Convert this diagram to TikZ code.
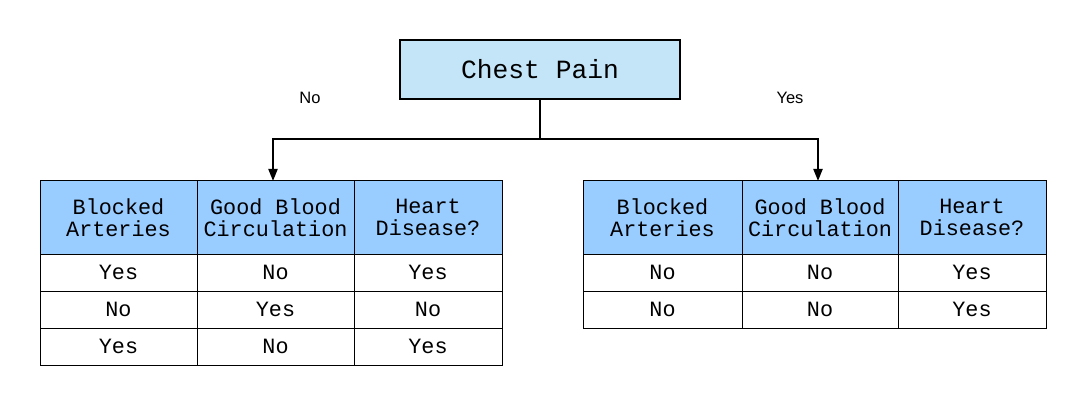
\documentclass[tikz,border=0pt]{standalone}
\usepackage{fontspec}
\setmainfont{Liberation Sans}
\newfontfamily\monof{Liberation Mono}
\usetikzlibrary{arrows.meta}
\definecolor{rootfill}{HTML}{C4E5F7}
\definecolor{headfill}{HTML}{99CCFF}
\tikzset{
  cell/.style={draw=black, line width=1pt, inner sep=0pt, align=center,
    font=\monof\fontsize{21.8}{21.7}\selectfont},
  head/.style={cell, fill=headfill},
  root/.style={draw=black, line width=2pt, fill=rootfill, inner sep=0pt,
    minimum width=280, minimum height=59, font=\monof\fontsize{26.3}{28}\selectfont},
  conn/.style={line width=2pt},
  arr/.style={conn, -{Triangle[width=9pt,length=12pt]}},
  lbl/.style={font=\fontsize{16.5}{18}\selectfont, inner sep=0pt}
}
\begin{document}
\begin{tikzpicture}[x=1pt,y=-1pt]
\useasboundingbox (0,0) rectangle (1087,406);
\node[root] (cp) at (540,69.5) {Chest Pain};
\node[lbl] (no) at (310,98) {No};
\node[lbl] (yes) at (790,98) {Yes};
% left table
\node[head, minimum width=157, minimum height=73] (L01) at (118.5,217.5) {Blocked\\Arteries};
\node[head, minimum width=157, minimum height=73] (L02) at (275.5,217.5) {Good Blood\\Circulation};
\node[head, minimum width=148, minimum height=73] (L03) at (428,217.5) {Heart\\Disease?};
\node[cell, minimum width=157, minimum height=37] (L11) at (118.5,272.5) {Yes};
\node[cell, minimum width=157, minimum height=37] (L12) at (275.5,272.5) {No};
\node[cell, minimum width=148, minimum height=37] (L13) at (428,272.5) {Yes};
\node[cell, minimum width=157, minimum height=37] (L21) at (118.5,309.5) {No};
\node[cell, minimum width=157, minimum height=37] (L22) at (275.5,309.5) {Yes};
\node[cell, minimum width=148, minimum height=37] (L23) at (428,309.5) {No};
\node[cell, minimum width=157, minimum height=37] (L31) at (118.5,346.5) {Yes};
\node[cell, minimum width=157, minimum height=37] (L32) at (275.5,346.5) {No};
\node[cell, minimum width=148, minimum height=37] (L33) at (428,346.5) {Yes};
% right table
\node[head, minimum width=159, minimum height=73] (R01) at (662.5,217.5) {Blocked\\Arteries};
\node[head, minimum width=156, minimum height=73] (R02) at (820,217.5) {Good Blood\\Circulation};
\node[head, minimum width=148, minimum height=73] (R03) at (972,217.5) {Heart\\Disease?};
\node[cell, minimum width=159, minimum height=37] (R11) at (662.5,272.5) {No};
\node[cell, minimum width=156, minimum height=37] (R12) at (820,272.5) {No};
\node[cell, minimum width=148, minimum height=37] (R13) at (972,272.5) {Yes};
\node[cell, minimum width=159, minimum height=37] (R21) at (662.5,309.5) {No};
\node[cell, minimum width=156, minimum height=37] (R22) at (820,309.5) {No};
\node[cell, minimum width=148, minimum height=37] (R23) at (972,309.5) {Yes};
% connectors
\coordinate (j) at (540,139);
\coordinate (lt) at (273,181);
\coordinate (rt) at (818,181);
\draw[conn] (cp.south) -- (j);
\draw[arr] (j) -| (lt);
\draw[arr] (j) -| (rt);
\end{tikzpicture}
\end{document}
